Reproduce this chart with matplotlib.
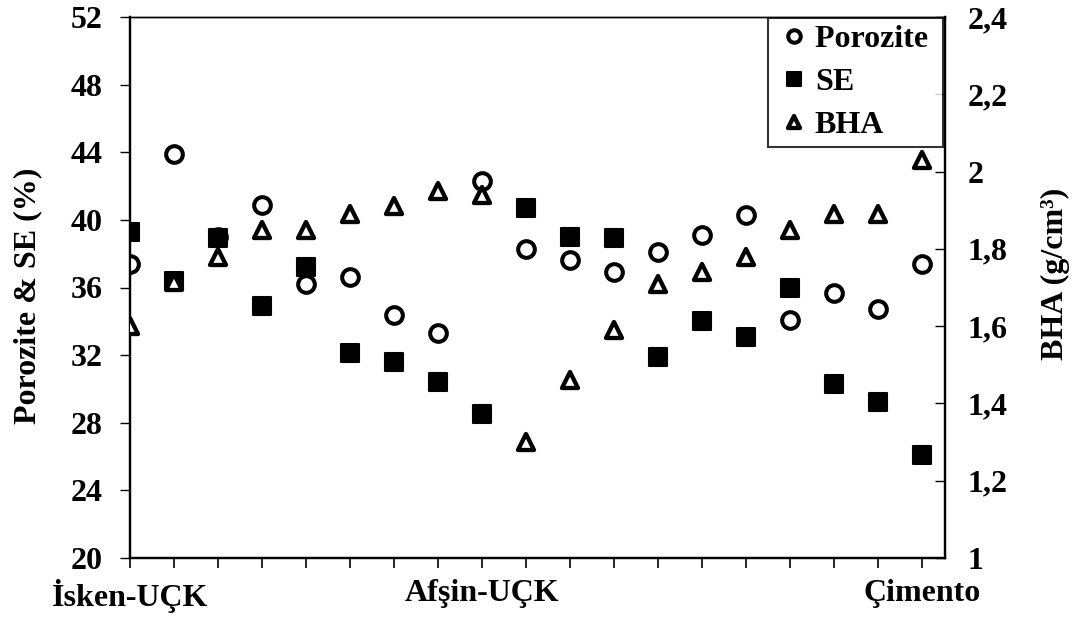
import matplotlib
matplotlib.use("Agg")
import matplotlib.pyplot as plt
from matplotlib.markers import MarkerStyle

# ---- data ----
categories = ["İsken-UÇK", "", "", "", "", "", "", "", "Afşin-UÇK", "", "", "", "", "", "", "", "", "", "Çimento"]
porozite = [37.4, 43.9, 39.0, 40.9, 36.2, 36.6, 34.4, 33.3, 42.3, 38.3, 37.6, 36.9, 38.1, 39.1, 40.3, 34.1, 35.7, 34.7, 37.4]
se = [39.3, 36.4, 38.9, 34.9, 37.2, 32.1, 31.6, 30.4, 28.5, 40.7, 39.0, 38.9, 31.9, 34.0, 33.1, 36.0, 30.3, 29.2, 26.1]
bha = [1.60, 1.715, 1.78, 1.85, 1.85, 1.89, 1.91, 1.95, 1.94, 1.30, 1.46, 1.59, 1.71, 1.74, 1.78, 1.85, 1.89, 1.89, 2.03]
left_ticks = [20, 24, 28, 32, 36, 40, 44, 48, 52]
right_ticks = [1.0, 1.2, 1.4, 1.6, 1.8, 2.0, 2.2, 2.4]
right_labels = ["1", "1,2", "1,4", "1,6", "1,8", "2", "2,2", "2,4"]

plt.rcParams['font.family'] = ['Liberation Serif', 'DejaVu Serif']
plt.rcParams['font.weight'] = 'bold'
FS = 23

fig = plt.figure(figsize=(10.81, 6.19), dpi=100)
ax = fig.add_axes([130/1081, 1-558/619, (945-130)/1081, (558-17)/619])
ax2 = ax.twinx()

x = list(range(len(categories)))

circ = MarkerStyle('o')
sq = MarkerStyle('s', joinstyle='round')
tri = MarkerStyle('^', joinstyle='round')

h1, = ax.plot(x, porozite, linestyle='none', marker=circ, ms=12, mew=2.9,
              mfc='white', mec='black', label='Porozite ', zorder=3)
h2, = ax.plot(x, se, linestyle='none', marker=sq, ms=13.2, mew=1.5,
              mfc='black', mec='black', label='SE', zorder=4)
h3, = ax2.plot(x, bha, linestyle='none', marker=tri, ms=11.5, mew=3.1,
               mfc='white', mec='black', label='BHA', zorder=5)

ax.set_xlim(0, 18.52)
ax.set_ylim(20, 52)
ax2.set_ylim(1.0, 2.4)

ax.set_xticks(x)
ax.set_xticklabels(categories, fontsize=FS, fontweight='bold')
ax.tick_params(axis='x', direction='out', length=7, width=1.2, pad=8)
ax.set_yticks(left_ticks)
ax.set_yticklabels([str(t) for t in left_ticks], fontsize=FS, fontweight='bold')
ax.tick_params(axis='y', direction='out', length=7, width=1.0, pad=13)

ax2.set_yticks(right_ticks)
ax2.set_yticklabels(right_labels, fontsize=FS, fontweight='bold')
ax2.tick_params(axis='y', direction='in', length=7, width=1.0, pad=16)

for a in (ax, ax2):
    for s in ('left', 'bottom', 'right'):
        a.spines[s].set_linewidth(1.6)
    a.spines['top'].set_linewidth(1.0)

ax.set_ylabel('Porozite & SE (%)', fontsize=FS, fontweight='bold', labelpad=20)
ax.yaxis.label.set_y(0.5 - 8/541)
ax2.set_ylabel('BHA (g/cm³)', fontsize=FS, fontweight='bold', labelpad=24)
ax2.yaxis.label.set_y(0.5 + 14/541)

leg = ax2.legend(handles=[h1, h2, h3], loc='upper right', bbox_to_anchor=(943/1081, 1-18/619),
                 bbox_transform=fig.transFigure, frameon=True, fancybox=False,
                 edgecolor='black', markerscale=0.75, handlelength=1.16,
                 handletextpad=0.08, borderpad=0.22, labelspacing=0.42, borderaxespad=0,
                 prop={'weight': 'bold', 'size': FS})
leg.get_frame().set_linewidth(1.5)

fig.savefig('out.png', dpi=100)
